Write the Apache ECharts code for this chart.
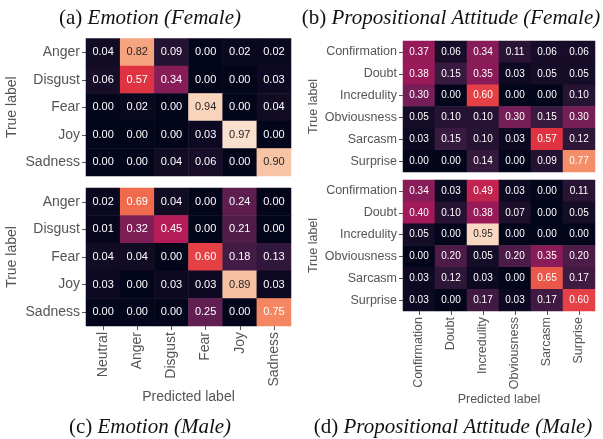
<!DOCTYPE html>
<html>
<head>
<meta charset="utf-8">
<script src="https://cdn.jsdelivr.net/npm/echarts@6/dist/echarts.min.js"></script>
<style>
  html, body { margin: 0; padding: 0; background: #fff; }
  #chart { width: 603px; height: 439px; }
</style>
</head>
<body>
<div id="chart"></div>
<script>
// categories
const emotionCols = ['Neutral', 'Anger', 'Disgust', 'Fear', 'Joy', 'Sadness'];
const emotionRows = ['Anger', 'Disgust', 'Fear', 'Joy', 'Sadness'];
const attitudeLabels = ['Confirmation', 'Doubt', 'Incredulity', 'Obviousness', 'Sarcasm', 'Surprise'];

// confusion matrices (rows = true label, cols = predicted label)
const emotionFemale = [
  [0.04, 0.82, 0.09, 0.00, 0.02, 0.02],
  [0.06, 0.57, 0.34, 0.00, 0.00, 0.03],
  [0.00, 0.02, 0.00, 0.94, 0.00, 0.04],
  [0.00, 0.00, 0.00, 0.03, 0.97, 0.00],
  [0.00, 0.00, 0.04, 0.06, 0.00, 0.90]
];
const emotionMale = [
  [0.02, 0.69, 0.04, 0.00, 0.24, 0.00],
  [0.01, 0.32, 0.45, 0.00, 0.21, 0.00],
  [0.04, 0.04, 0.00, 0.60, 0.18, 0.13],
  [0.03, 0.00, 0.03, 0.03, 0.89, 0.03],
  [0.00, 0.00, 0.00, 0.25, 0.00, 0.75]
];
const attitudeFemale = [
  [0.37, 0.06, 0.34, 0.11, 0.06, 0.06],
  [0.38, 0.15, 0.35, 0.03, 0.05, 0.05],
  [0.30, 0.00, 0.60, 0.00, 0.00, 0.10],
  [0.05, 0.10, 0.10, 0.30, 0.15, 0.30],
  [0.03, 0.15, 0.10, 0.03, 0.57, 0.12],
  [0.00, 0.00, 0.14, 0.00, 0.09, 0.77]
];
const attitudeMale = [
  [0.34, 0.03, 0.49, 0.03, 0.00, 0.11],
  [0.40, 0.10, 0.38, 0.07, 0.00, 0.05],
  [0.05, 0.00, 0.95, 0.00, 0.00, 0.00],
  [0.00, 0.20, 0.05, 0.20, 0.35, 0.20],
  [0.03, 0.12, 0.03, 0.00, 0.65, 0.17],
  [0.03, 0.00, 0.17, 0.03, 0.17, 0.60]
];

// seaborn "rocket"
const rocket = ['#03051a', '#35193e', '#701f57', '#ad1759', '#e13342', '#f37651', '#f6b48f', '#faebdd'];

const gray = '#555';
const sans = 'Liberation Sans';
const serif = 'Liberation Serif';

function cells(matrix) {
  const out = [];
  matrix.forEach((row, r) => {
    row.forEach((v, c) => {
      out.push({ value: [c, r, v], label: { color: v > 0.8 ? '#262626' : '#fff' } });
    });
  });
  return out;
}

const grids = [
  { left: 86, top: 38.5, width: 205, height: 137.5 },
  { left: 403, top: 41, width: 192, height: 131 },
  { left: 86, top: 188, width: 205, height: 138 },
  { left: 403, top: 180, width: 192, height: 131 }
];

function yAxis(i, rows, fs, gap) {
  return {
    type: 'category', gridIndex: i, data: rows, inverse: true,
    axisLine: { show: false },
    axisTick: { show: true, alignWithLabel: true, length: 4, lineStyle: { color: gray } },
    axisLabel: { margin: 6, fontSize: fs, color: gray, fontFamily: sans },
    splitArea: { show: false }, splitLine: { show: false },
    name: 'True label', nameLocation: 'middle', nameRotate: 90, nameGap: gap,
    nameTextStyle: { fontSize: fs, color: gray, fontFamily: sans }
  };
}

function xAxis(i, cols, fs, showLabels, gap) {
  return {
    type: 'category', gridIndex: i, data: cols,
    axisLine: { show: false },
    axisTick: { show: showLabels, alignWithLabel: true, length: 4, lineStyle: { color: gray } },
    axisLabel: { show: showLabels, rotate: 90, margin: 6, fontSize: fs, color: gray, fontFamily: sans },
    splitArea: { show: false }, splitLine: { show: false },
    name: showLabels ? 'Predicted label' : '', nameLocation: 'middle', nameGap: gap,
    nameTextStyle: { fontSize: fs, color: gray, fontFamily: sans }
  };
}

function series(i, matrix, fs) {
  return {
    type: 'heatmap', xAxisIndex: i, yAxisIndex: i,
    data: cells(matrix),
    label: { show: true, fontSize: fs, fontFamily: sans, formatter: p => p.value[2].toFixed(2) },
    emphasis: { disabled: true },
    itemStyle: { borderWidth: 0 }
  };
}

function caption(tag, text, x, y) {
  return {
    text: `{r|${tag} }{i|${text}}`,
    left: x, top: y, textAlign: 'center',
    textStyle: {
      rich: {
        r: { fontFamily: serif, fontSize: 21, fontWeight: 'normal', color: '#111' },
        i: { fontFamily: serif, fontSize: 21, fontWeight: 'normal', fontStyle: 'italic', color: '#111' }
      }
    }
  };
}

const chart = echarts.init(document.getElementById('chart'));
chart.setOption({
  animation: false,
  title: [
    caption('(a)', 'Emotion (Female)', 145, 3),
    caption('(b)', 'Propositional Attitude (Female)', 446, 3),
    caption('(c)', 'Emotion (Male)', 145, 412),
    caption('(d)', 'Propositional Attitude (Male)', 448, 412)
  ],
  grid: grids,
  xAxis: [
    xAxis(0, emotionCols, 14, false, 0),
    xAxis(1, attitudeLabels, 12.5, false, 0),
    xAxis(2, emotionCols, 14, true, 62),
    xAxis(3, attitudeLabels, 12.5, true, 79)
  ],
  yAxis: [
    yAxis(0, emotionRows, 14, 67),
    yAxis(1, attitudeLabels, 12.5, 83),
    yAxis(2, emotionRows, 14, 67),
    yAxis(3, attitudeLabels, 12.5, 83)
  ],
  visualMap: {
    show: false, type: 'continuous', min: 0, max: 1,
    seriesIndex: [0, 1, 2, 3],
    inRange: { color: rocket }
  },
  series: [
    series(0, emotionFemale, 11),
    series(1, attitudeFemale, 10),
    series(2, emotionMale, 11),
    series(3, attitudeMale, 10)
  ]
});
</script>
</body>
</html>
